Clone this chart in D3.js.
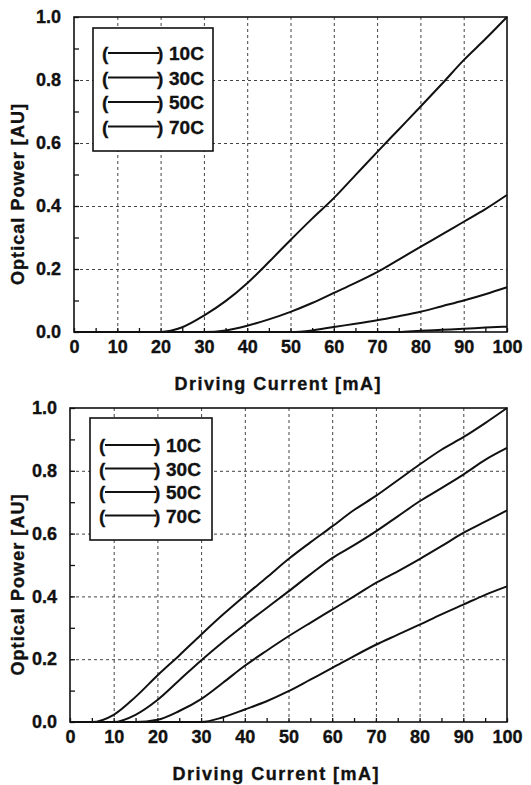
<!DOCTYPE html>
<html>
<head>
<meta charset="utf-8">
<script src="https://cdn.jsdelivr.net/npm/d3@7"></script>
<style>
  html, body { margin: 0; padding: 0; background: #fff; }
  svg text { font-family: "Liberation Sans", Arial, sans-serif; font-weight: bold; fill: #111; stroke: #111; stroke-width: 0.35; }
  .grid line { stroke: #444; stroke-width: 1; stroke-dasharray: 3,3; }
  .grid path { display: none; }
  .curve { fill: none; stroke: #111; stroke-width: 2; }
</style>
</head>
<body>
<div id="chart"></div>
<script>
// 공통 x 값 (mA)
const currents = d3.range(0, 101, 5);
const xTicks = [0, 10, 20, 30, 40, 50, 60, 70, 80, 90, 100];
const yTicks = [0, 0.2, 0.4, 0.6, 0.8, 1.0];
const legendLabels = ["10C", "30C", "50C", "70C"];

// 위 그래프
const topP10 = [0, 0, 0, 0, 0, 0.015, 0.052, 0.098, 0.155, 0.222, 0.292, 0.36, 0.425, 0.498, 0.571, 0.643, 0.715, 0.788, 0.863, 0.93, 1.0];
const topP30 = [0, 0, 0, 0, 0, 0, 0, 0.005, 0.02, 0.04, 0.064, 0.092, 0.124, 0.156, 0.19, 0.23, 0.27, 0.31, 0.35, 0.39, 0.435];
const topP50 = [0, 0, 0, 0, 0, 0, 0, 0, 0, 0, 0, 0.005, 0.016, 0.026, 0.037, 0.05, 0.064, 0.082, 0.1, 0.12, 0.142];
const topP70 = [0, 0, 0, 0, 0, 0, 0, 0, 0, 0, 0, 0, 0, 0, 0, 0, 0.004, 0.007, 0.01, 0.014, 0.017];

// 아래 그래프
const botP10 = [0, 0, 0.023, 0.08, 0.148, 0.212, 0.278, 0.342, 0.402, 0.46, 0.519, 0.572, 0.623, 0.675, 0.72, 0.77, 0.82, 0.867, 0.907, 0.952, 1.0];
const botP30 = [0, 0, 0, 0.023, 0.07, 0.133, 0.196, 0.255, 0.31, 0.363, 0.416, 0.47, 0.522, 0.563, 0.607, 0.655, 0.703, 0.745, 0.788, 0.835, 0.873];
const botP50 = [0, 0, 0, 0, 0.007, 0.035, 0.073, 0.125, 0.179, 0.227, 0.273, 0.316, 0.358, 0.4, 0.443, 0.48, 0.519, 0.56, 0.602, 0.638, 0.674];
const botP70 = [0, 0, 0, 0, 0, 0, 0, 0.015, 0.04, 0.066, 0.098, 0.135, 0.172, 0.21, 0.246, 0.278, 0.31, 0.343, 0.374, 0.405, 0.432];

const svg = d3.select("#chart").append("svg")
  .attr("width", 531).attr("height", 785);

function panel(opt) {
  const { left, top, width, height, series, legend } = opt;
  const g = svg.append("g").attr("transform", `translate(${left},${top})`);
  const x = d3.scaleLinear().domain([0, 100]).range([0, width]);
  const y = d3.scaleLinear().domain([0, 1]).range([height, 0]);

  // 그리드
  g.append("g").attr("class", "grid")
    .call(d3.axisBottom(x).tickValues(xTicks.slice(1, -1)).tickSize(height).tickFormat(""));
  g.append("g").attr("class", "grid")
    .call(d3.axisLeft(y).tickValues(yTicks.slice(1, -1)).tickSize(-width).tickFormat(""));

  // 곡선
  const line = d3.line().curve(d3.curveMonotoneX).x((d, i) => x(currents[i])).y(d => y(d));
  series.forEach(s => {
    g.append("path").datum(s).attr("class", "curve").attr("d", line);
  });

  // 테두리
  g.append("rect").attr("width", width).attr("height", height)
    .attr("fill", "none").attr("stroke", "#111").attr("stroke-width", 1.6);

  // 축 (안쪽 눈금)
  const xAx = g.append("g").attr("transform", `translate(0,${height})`)
    .call(d3.axisBottom(x).tickValues(d3.range(0, 101, 5)).tickSizeInner(-4).tickSizeOuter(0)
      .tickPadding(8).tickFormat(d => d % 10 === 0 ? d : ""));
  const yAx = g.append("g")
    .call(d3.axisLeft(y).tickValues(d3.range(0, 1.01, 0.1)).tickSizeInner(-5).tickSizeOuter(0)
      .tickPadding(13).tickFormat(d => Math.round(d * 10) % 2 === 0 ? d3.format(".1f")(d) : ""));
  [xAx, yAx].forEach(a => {
    a.select(".domain").remove();
    a.selectAll("line").attr("stroke", "#111").attr("stroke-width", 1.3);
    a.selectAll("text").style("font-size", "18px").attr("fill", "#111");
  });

  // 축 제목
  g.append("text").attr("x", width / 2 - 13).attr("y", height + 58)
    .attr("text-anchor", "middle").style("font-size", "18px")
    .attr("textLength", 206).attr("lengthAdjust", "spacing")
    .text("Driving Current [mA]");
  g.append("text").attr("transform", `translate(${-left + 24},${height / 2 + 20}) rotate(-90)`)
    .attr("text-anchor", "middle").style("font-size", "18px")
    .attr("textLength", 181).attr("lengthAdjust", "spacing")
    .text("Optical Power [AU]");

  // 범례
  const lg = g.append("g").attr("transform", `translate(${legend.x},${legend.y})`);
  lg.append("rect").attr("width", legend.w).attr("height", legend.h)
    .attr("fill", "#fff").attr("stroke", "#111").attr("stroke-width", 1.6);
  legendLabels.forEach((lab, i) => {
    const cy = legend.rowY + i * legend.rowGap;
    lg.append("text").attr("x", 9).attr("y", cy + 7).style("font-size", "19px").text("(");
    lg.append("line").attr("x1", 15).attr("x2", 66).attr("y1", cy).attr("y2", cy)
      .attr("stroke", "#111").attr("stroke-width", 2);
    lg.append("text").attr("x", 64).attr("y", cy + 7).style("font-size", "19px").text(")");
    lg.append("text").attr("x", 76).attr("y", cy + 7).style("font-size", "19px").text(lab);
  });
}

panel({
  left: 74, top: 17, width: 433, height: 315,
  series: [topP10, topP30, topP50, topP70],
  legend: { x: 19, y: 11, w: 120, h: 123, rowY: 25, rowGap: 24.5 }
});

panel({
  left: 70, top: 408, width: 437, height: 314,
  series: [botP10, botP30, botP50, botP70],
  legend: { x: 20, y: 10, w: 122, h: 122, rowY: 27, rowGap: 23.5 }
});
</script>
</body>
</html>
